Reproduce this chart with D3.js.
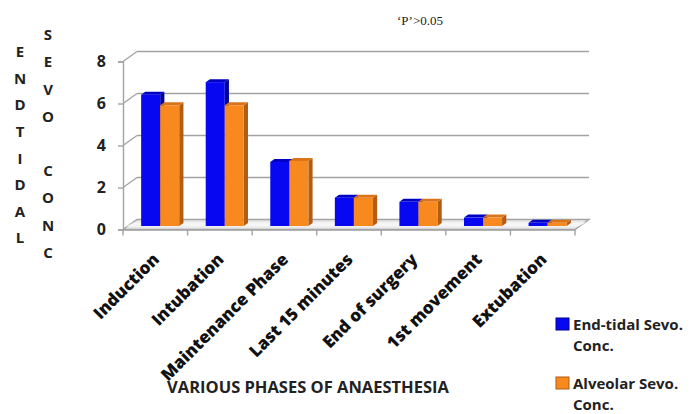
<!DOCTYPE html>
<html><head><meta charset="utf-8">
<script src="https://cdn.jsdelivr.net/npm/d3@7"></script>
<style>body{margin:0;background:#fff}svg{display:block}</style>
</head><body>
<svg id="c" width="692" height="414"></svg>
<script>
const categories = ["Induction","Intubation","Maintenance Phase","Last 15 minutes","End of surgery","1st movement","Extubation"];
const endTidal = [6.25,6.85,3.05,1.35,1.15,0.4,0.15];
const alveolar = [5.75,5.75,3.1,1.35,1.15,0.4,0.15];
const seriesKeys = ["endTidal","alveolar"];
const legendLines = [["End-tidal Sevo.","Conc."],["Alveolar Sevo.","Conc."]];
const yTicks = [0,2,4,6,8];
const yTitle1 = ["E","N","D","T","I","D","A","L"];
const yTitle2 = ["S","E","V","O","","C","O","N","C"];
const xTitle = "VARIOUS PHASES OF ANAESTHESIA";
const note = "\u2018P\u2019>0.05";

const data = categories.map((c,i)=>({cat:c, endTidal:endTidal[i], alveolar:alveolar[i]}));
const svg = d3.select("#c");
const FONT = "'Open Sans', Lato, sans-serif";
const DX = 14, DY = -10;
const zF = 0.35, zB = 0.65;
const colors = {
  endTidal:{front:"#0707f2", top:"#0000c4", side:"#00009a"},
  alveolar:{front:"#f7891f", top:"#d9741a", side:"#b35c14"}
};

const x0 = d3.scaleBand().domain(categories).range([123,575]).paddingInner(0.41).paddingOuter(0.205);
const x1 = d3.scaleBand().domain(seriesKeys).range([0, x0.bandwidth()]);
const y = d3.scaleLinear().domain([0,8]).range([229.5, 61.5]);
const xStart = 123, xEnd = 575;

const grid = svg.append("g");
grid.selectAll("line.bg").data(yTicks.filter(t=>t>0)).join("line")
  .attr("x1", xStart+DX).attr("x2", xEnd+DX)
  .attr("y1", d=>y(d)+DY).attr("y2", d=>y(d)+DY)
  .attr("stroke","#a3a3a3").attr("stroke-width",1.6);
grid.selectAll("line.lw").data(yTicks.filter(t=>t>0)).join("line")
  .attr("x1", xStart).attr("x2", xStart+DX)
  .attr("y1", d=>y(d)).attr("y2", d=>y(d)+DY)
  .attr("stroke","#a3a3a3").attr("stroke-width",1.4);
const y0 = y(0);
grid.append("path")
  .attr("d", `M${xStart},${y0}L${xEnd},${y0}L${xEnd+DX},${y0+DY}L${xStart+DX},${y0+DY}Z`)
  .attr("fill","#e9e9e9").attr("stroke","#a3a3a3").attr("stroke-width",1.4);
grid.append("path")
  .attr("d", `M${xStart+3},${y0-3}L${xEnd+3},${y0-3}L${xEnd+DX-3},${y0+DY+3}L${xStart+DX-3},${y0+DY+3}Z`)
  .attr("fill","#f6f6f6");

const yAxis = svg.append("g").attr("transform",`translate(${xStart},0)`)
  .call(d3.axisLeft(y).tickValues(yTicks).tickSize(5).tickPadding(12).tickFormat(d3.format("d")));
yAxis.select(".domain").attr("stroke","#a3a3a3").attr("stroke-width",1.4);
yAxis.selectAll(".tick line").attr("stroke","#a3a3a3").attr("stroke-width",1.4);
yAxis.selectAll(".tick text").attr("font-family",FONT).attr("font-weight","bold")
  .attr("font-size","16px").attr("fill","#222");

const xAxis = svg.append("g").attr("transform",`translate(0,${y0})`)
  .call(d3.axisBottom(x0).tickSize(0).tickFormat(""));
xAxis.select(".domain").attr("stroke","#a3a3a3").attr("stroke-width",1.4);
const step = x0.step();
xAxis.selectAll("line.ct").data(d3.range(categories.length+1)).join("line")
  .attr("x1", i=>xStart+i*step).attr("x2", i=>xStart+i*step)
  .attr("y1",0).attr("y2",6).attr("stroke","#a3a3a3").attr("stroke-width",1.4);

const bw = x1.bandwidth();
const dX = DX*(zB-zF), dY = DY*(zB-zF);
const bars = svg.append("g");
data.forEach(d=>{
  seriesKeys.forEach(k=>{
    const fx = x0(d.cat) + x1(k) + DX*zF;
    const base = y(0) + DY*zF;
    const top = y(d[k]) + DY*zF;
    const c = colors[k];
    const g = bars.append("g");
    g.append("path").attr("fill",c.side)
      .attr("d",`M${fx+bw},${top}L${fx+bw+dX},${top+dY}L${fx+bw+dX},${base+dY}L${fx+bw},${base}Z`);
    g.append("path").attr("fill",c.top)
      .attr("d",`M${fx},${top}L${fx+bw},${top}L${fx+bw+dX},${top+dY}L${fx+dX},${top+dY}Z`);
    g.append("rect").attr("x",fx).attr("y",top).attr("width",bw).attr("height",Math.max(0,base-top))
      .attr("fill",c.front);
  });
});

svg.append("g").selectAll("text").data(categories).join("text")
  .attr("transform", d=>`translate(${x0(d)+x0.bandwidth()/2+5},${y0+31}) rotate(-45)`)
  .attr("text-anchor","end")
  .attr("font-family",FONT).attr("font-weight","800").attr("font-size","17px").attr("fill","#111")
  .text(d=>d);

svg.append("g").selectAll("text").data(yTitle1).join("text")
  .attr("x",20).attr("y",(d,i)=>52+i*26.6).attr("dy","0.35em").attr("text-anchor","middle")
  .attr("font-family",FONT).attr("font-weight","bold").attr("font-size","15px").attr("fill","#222")
  .text(d=>d);
svg.append("g").selectAll("text").data(yTitle2).join("text")
  .attr("x",48).attr("y",(d,i)=>35+i*27.2).attr("dy","0.35em").attr("text-anchor","middle")
  .attr("font-family",FONT).attr("font-weight","bold").attr("font-size","15px").attr("fill","#222")
  .text(d=>d);

svg.append("text").attr("x",308).attr("y",393).attr("text-anchor","middle")
  .attr("font-family",FONT).attr("font-weight","bold").attr("font-size","16.5px").attr("fill","#222")
  .text(xTitle);

svg.append("text").attr("x",397).attr("y",25)
  .attr("font-family","'Liberation Serif','Times New Roman',serif").attr("font-size","13px").attr("fill","#222")
  .text(note);

const leg = svg.append("g");
const legTop = [318, 377];
seriesKeys.forEach((k,i)=>{
  leg.append("rect").attr("x",556).attr("y",legTop[i]).attr("width",13).attr("height",12)
    .attr("fill",colors[k].front).attr("stroke",colors[k].side).attr("stroke-width",1);
  legendLines[i].forEach((t,j)=>{
    leg.append("text").attr("x",573).attr("y",legTop[i]+12+j*21)
      .attr("font-family",FONT).attr("font-weight","bold").attr("font-size","15px").attr("fill","#222")
      .text(t);
  });
});
</script>
</body></html>
